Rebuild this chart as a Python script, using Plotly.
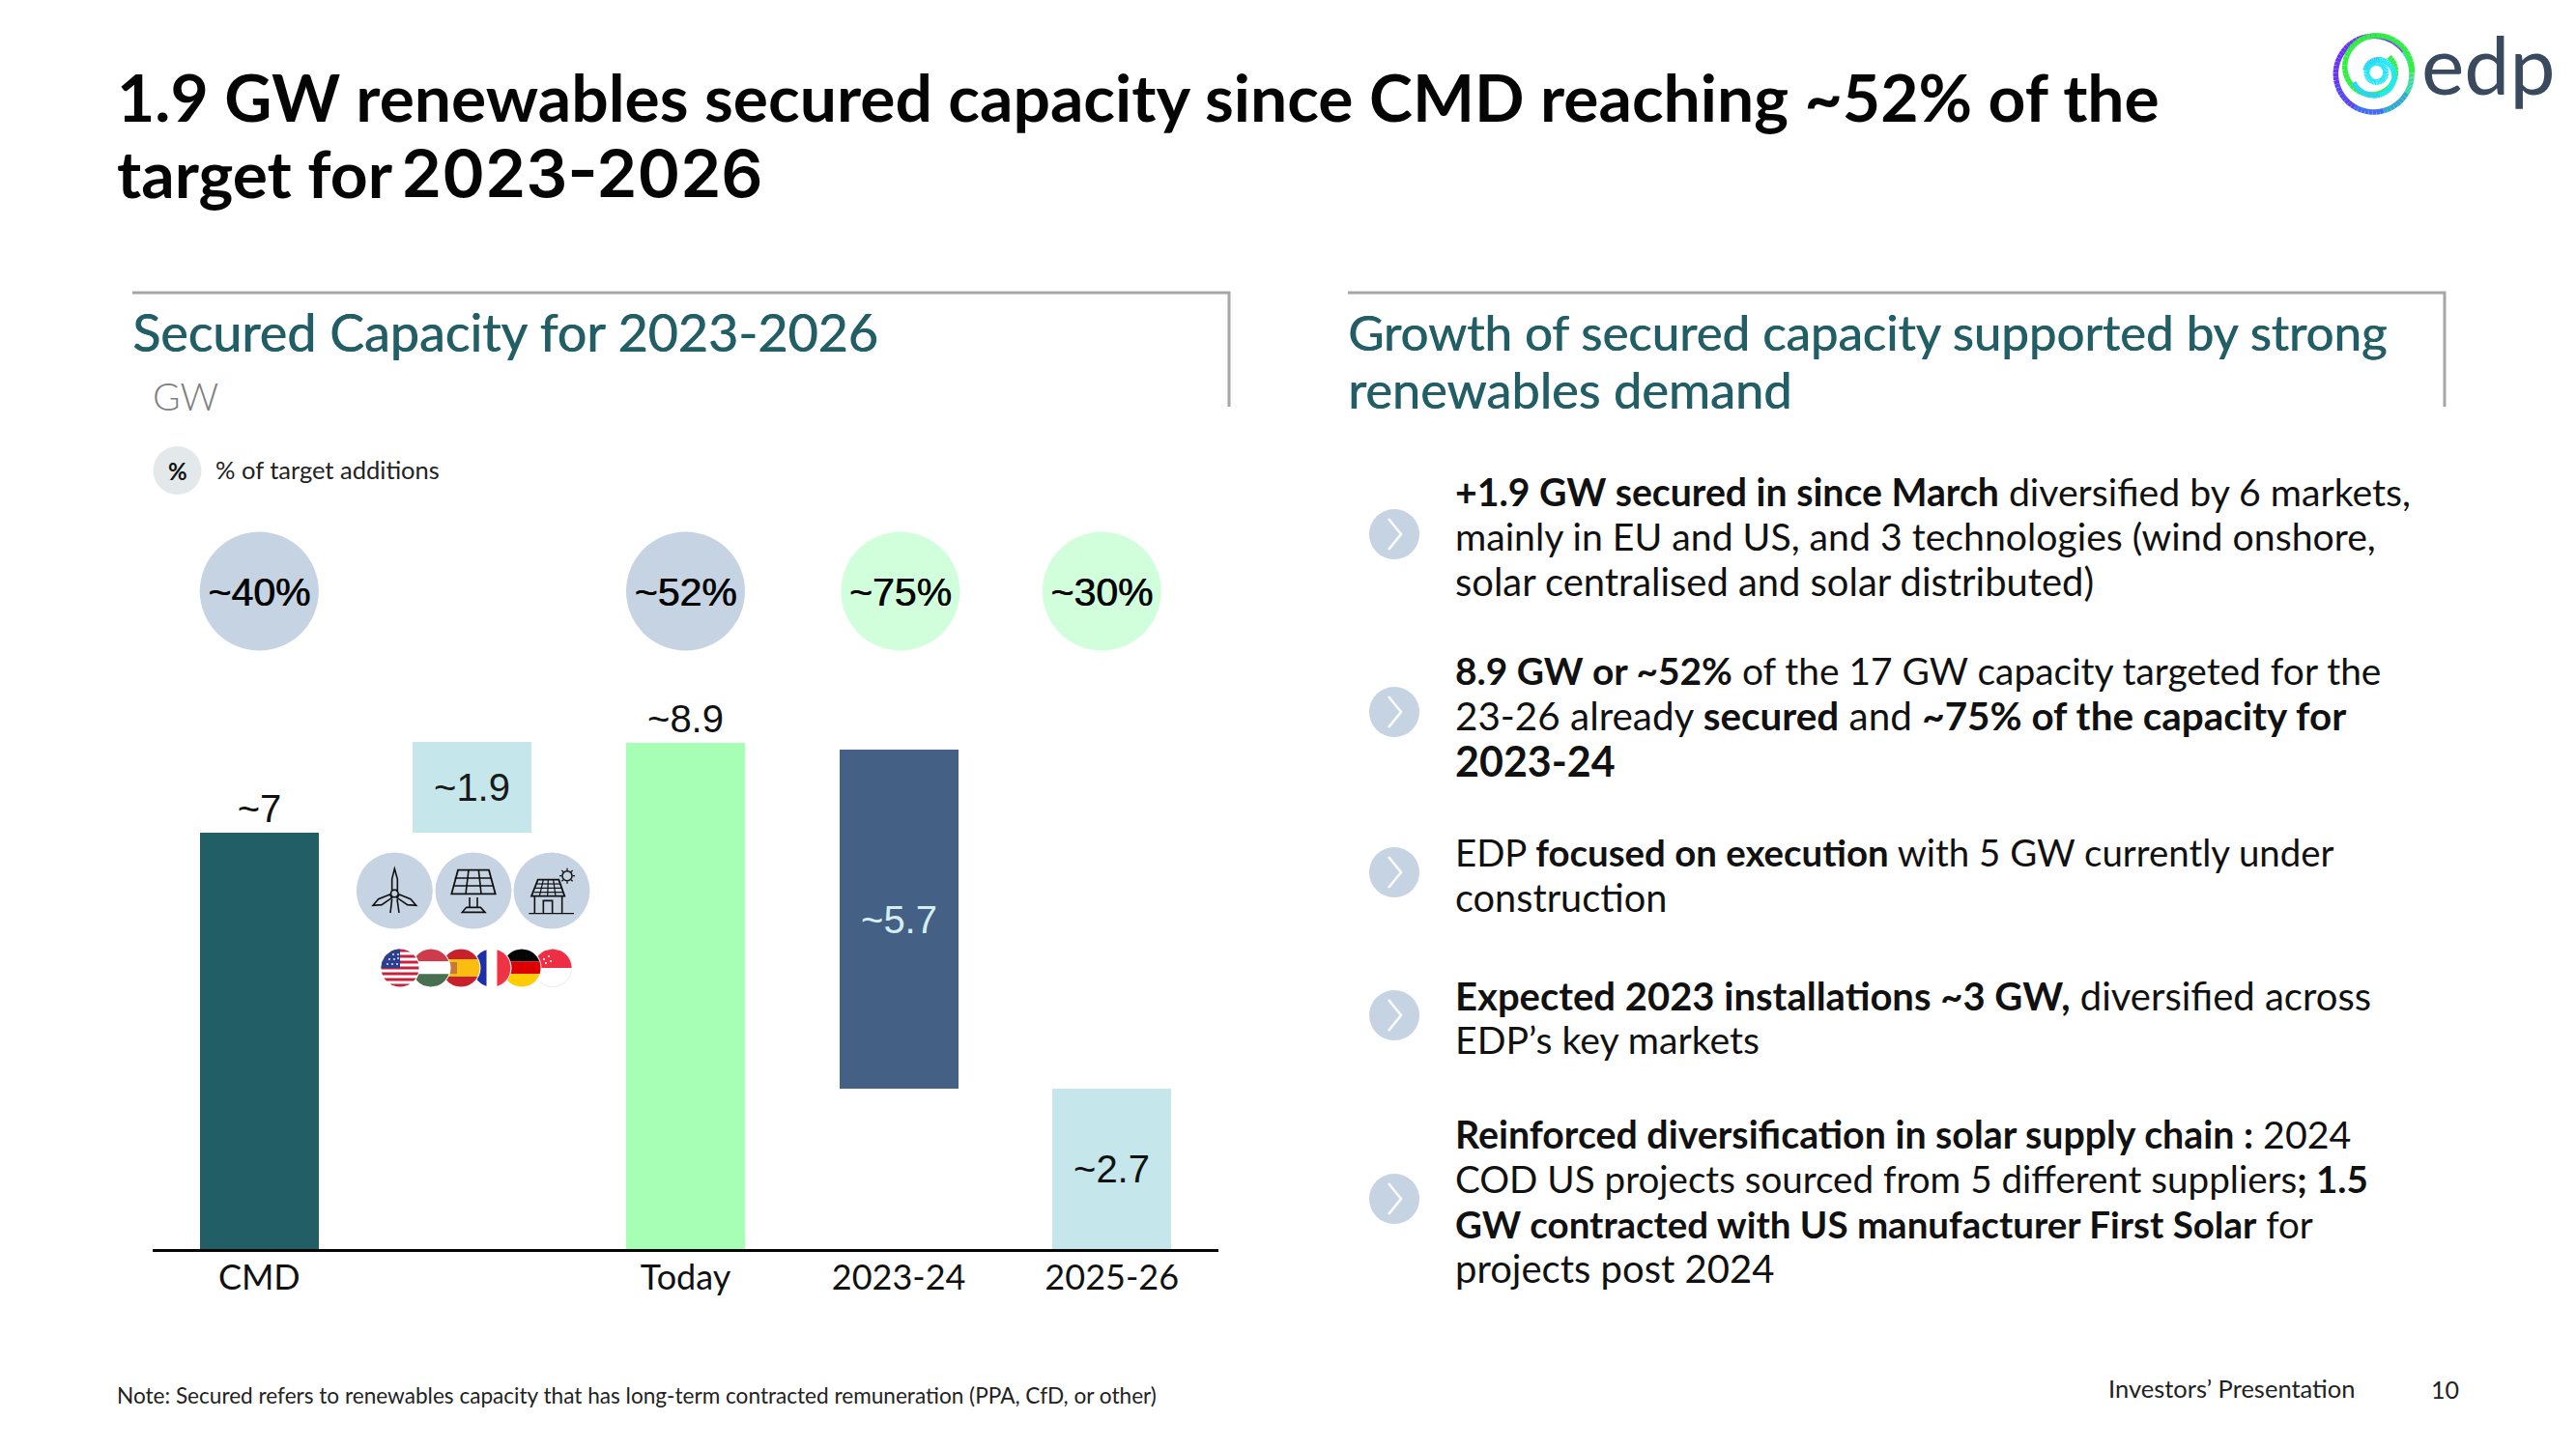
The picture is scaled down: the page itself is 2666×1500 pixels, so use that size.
import numpy as np
import plotly.graph_objects as go

W, H = 2666, 1500
CATEGORIES = ["CMD", "", "Today", "2023-24", "2025-26"]
BAR_BASE = [0, 7.0, 0, 2.7, 0]
BAR_HEIGHT = [7.0, 1.52, 8.5, 5.7, 2.7]
BAR_LABELS = ["~7", "~1.9", "~8.9", "~5.7", "~2.7"]
BAR_COLORS = ["#225E66", "#C5E7EC", "#A6FFB5", "#446084", "#C5E7EC"]
LABEL_COLORS = ["#111111", "#1a1a1a", "#111111", "#D5EEF2", "#111111"]
LABEL_POS = ["outside", "inside", "outside", "inside", "inside"]

PCT_X = [0, 2, 3.008, 3.953]
PCT_LABELS = ["~40%", "~52%", "~75%", "~30%"]
PCT_COLORS = ["#C6D3E2", "#C6D3E2", "#D2FFDB", "#D2FFDB"]

TITLE_LINE_1 = "1.9 GW renewables secured capacity since CMD reaching ~52% of the"
TITLE_LINE_2A = "target for"
TITLE_LINE_2B = "2023-2026"
BULLET_TEXT = [
    "<b>+1.9 GW secured in since March</b> diversified by 6 markets,",
    "mainly in EU and US, and 3 technologies (wind onshore,",
    "solar centralised and solar distributed)",
    "<b>8.9 GW or ~52%</b> of the 17 GW capacity targeted for the",
    "23-26 already <b>secured</b> and <b>~75% of the capacity for</b>",
    "<b>2023-24</b>",
    "EDP <b>focused on execution</b> with 5 GW currently under",
    "construction",
    "<b>Expected 2023 installations ~3 GW,</b> diversified across",
    "EDP’s key markets",
    "<b>Reinforced diversification in solar supply chain :</b> 2024",
    "COD US projects sourced from 5 different suppliers<b>; 1.5</b>",
    "<b>GW contracted with US manufacturer First Solar</b> for",
    "projects post 2024",
]

FONT = "Lato"
PX_PER_GW = 61.6
BASE_Y = 1293
AX_L, AX_R = 158, 1261
BULLET_LINE_Y = [508.5, 554.5, 601.5, 694, 740, 787.5, 881.5, 928.5, 1030.5, 1075.5, 1173.5, 1219.5, 1266.5, 1313]
BULLET_LINE_SIZE = [39.2, 39.2, 39.9, 38.9, 40.4, 43, 38.4, 39.7, 40, 39.2, 39.3, 38.6, 38.5, 40]
CHEVRON_Y = [553, 737, 903, 1051, 1241]


def px(x, y):
    return x / W, 1 - y / H


def path(pts, close=False):
    s = ""
    for i, (x, y) in enumerate(pts):
        a, b = px(x, y)
        s += ("M" if i == 0 else "L") + f"{a:.5f},{b:.5f} "
    return s + ("Z" if close else "")


shapes = []
annos = []


def poly(pts, fill=None, line=None, lw=0, close=True):
    d = dict(type="path", xref="paper", yref="paper", path=path(pts, close), layer="above",
             line=dict(color=line or "rgba(0,0,0,0)", width=lw))
    if fill:
        d["fillcolor"] = fill
    shapes.append(d)


def circ(cx, cy, r, fill=None, line=None, lw=0):
    x0, y1 = px(cx - r, cy - r)
    x1, y0 = px(cx + r, cy + r)
    d = dict(type="circle", xref="paper", yref="paper", x0=x0, x1=x1, y0=y0, y1=y1, layer="above",
             line=dict(color=line or "rgba(0,0,0,0)", width=lw))
    if fill:
        d["fillcolor"] = fill
    shapes.append(d)


def T(x, y, text, size, color="#111111", anchor="left", weight=400, family=FONT, shadow=None):
    a, b = px(x, y)
    font = dict(size=size, color=color, family=family, weight=weight)
    if shadow:
        font["shadow"] = shadow
    annos.append(dict(x=a, y=b, xref="paper", yref="paper", text=text, showarrow=False,
                      xanchor=anchor, yanchor="middle", font=font))


def hband(cx, cy, r, t0, t1, color):
    """horizontal band of a disc; t0/t1 are fractions of the diameter from the top"""
    ys = np.linspace(cy - r + 2 * r * t0, cy - r + 2 * r * t1, 14)
    w = np.sqrt(np.maximum(r * r - (ys - cy) ** 2, 0))
    pts = [(cx + a, y) for a, y in zip(w, ys)] + [(cx - a, y) for a, y in zip(w[::-1], ys[::-1])]
    poly(pts, fill=color)


def vband(cx, cy, r, t0, t1, color):
    xs = np.linspace(cx - r + 2 * r * t0, cx - r + 2 * r * t1, 14)
    h = np.sqrt(np.maximum(r * r - (xs - cx) ** 2, 0))
    pts = [(x, cy + a) for a, x in zip(h, xs)] + [(x, cy - a) for a, x in zip(h[::-1], xs[::-1])]
    poly(pts, fill=color)


# ---------- frames ----------
poly([(137, 303), (1272, 303), (1272, 421)], line="#A6A6A6", lw=3, close=False)
poly([(1395, 303), (2530, 303), (2530, 421)], line="#A6A6A6", lw=3, close=False)

# ---------- texts ----------
HEAD_SHADOW = "0.7px 0 0 #225E66"
T(119, 99, TITLE_LINE_1, 67.8, "#050505", weight=700)
T(119, 179, TITLE_LINE_2A, 67.8, "#050505", weight=700)
T(413, 179, TITLE_LINE_2B, 67.8, "#050505", weight=600, family="Inter")
T(135, 343, "Secured Capacity for 2023-2026", 53.8, "#225E66", shadow=HEAD_SHADOW)
T(1393, 343, "Growth of secured capacity supported by strong", 51, "#225E66", shadow=HEAD_SHADOW)
T(1393, 403, "renewables demand", 52.4, "#225E66", shadow=HEAD_SHADOW)
T(156, 410, "GW", 39, "#808080", weight=300)
circ(183.5, 487, 25, fill="#E3E9EA")
T(183.5, 487, "<b>%</b>", 24, "#111111", anchor="center")
T(221, 486, "% of target additions", 25.5, "#222222")
T(119, 1444, "Note: Secured refers to renewables capacity that has long-term contracted remuneration (PPA, CfD, or other)",
  22.6, "#222222")
T(2180, 1437, "Investors’ Presentation", 25.5, "#222222")
T(2547, 1438, "10", 25, "#222222", anchor="right")

# ---------- bullets ----------
for cy in CHEVRON_Y:
    circ(1443, cy, 26, fill="#C6D3E2")
    poly([(1437, cy - 16), (1450, cy), (1437, cy + 16)], line="#FFFFFF", lw=2.5, close=False)
for y, size, txt in zip(BULLET_LINE_Y, BULLET_LINE_SIZE, BULLET_TEXT):
    T(1504, y, txt, size, "#111111")


# ---------- technology icons (crop coordinates of the zoomed icons) ----------
def Z(x, y):
    return 340 + x / 3, 860 + y / 3


def zl(points, close=False, lw=1.6, color="#111111", fill=None):
    poly([Z(*p) for p in points], close=close, line=color, lw=lw, fill=fill)


for zx in (205, 450, 693):
    circ(*Z(zx, 186), 39.5, fill="#C6D3E2")

# wind turbine
zl([(205, 118), (214, 150), (214, 185), (197, 185), (197, 150)], close=True)
zl([(190, 198), (155, 212), (138, 232), (165, 230), (197, 208)], close=True)
zl([(220, 198), (255, 212), (272, 232), (245, 230), (213, 208)], close=True)
circ(*Z(205, 195), 3.8, fill="#C6D3E2", line="#111111", lw=1.6)
zl([(197, 212), (192, 255)])
zl([(213, 212), (219, 255)])

# solar panel
zl([(402, 122), (498, 122), (518, 196), (382, 196)], close=True, lw=1.8)
zl([(392, 147), (507, 147)])
zl([(387, 171), (512, 171)])
zl([(435, 122), (426, 196)])
zl([(466, 122), (474, 196)])
zl([(438, 207), (438, 240)])
zl([(462, 207), (462, 240)])
zl([(428, 238), (472, 238), (486, 253), (415, 253)], close=True)

# rooftop solar
zl([(650, 152), (715, 152), (733, 203), (630, 203)], close=True, lw=1.8)
zl([(647, 165), (720, 165)], lw=1.2)
zl([(642, 178), (724, 178)], lw=1.2)
zl([(638, 191), (728, 191)], lw=1.2)
for a, b in ((667, 655), (682, 680), (698, 705)):
    zl([(a, 152), (b, 203)], lw=1.2)
zl([(640, 203), (640, 256)])
zl([(725, 203), (725, 256)])
zl([(667, 256), (667, 217), (695, 217), (695, 256)])
zl([(622, 257), (762, 257)], lw=1.2)
circ(*Z(741, 140), 5, line="#111111", lw=1.5)
for ang in np.arange(0, 360, 45):
    c, s = np.cos(np.radians(ang)), np.sin(np.radians(ang))
    zl([(741 + 17 * c, 140 + 17 * s), (741 + 24 * c, 140 + 24 * s)], lw=1.3)

# ---------- flags, back to front ----------
FR = 19.5
FY = 1002
# Singapore
circ(572, FY, FR, fill="#FFFFFF", line="#ECECEC", lw=1)
hband(572, FY, FR, 0, 0.5, "#EE2E45")
for dx, dy in ((-9, -9), (-4, -12), (-2, -7), (-7, -5)):
    circ(572 + dx, FY + dy, 1.1, fill="#FFFFFF")
# Germany
circ(540, FY, FR + 1, fill="#FFFFFF")
hband(540, FY, FR, 0, 0.33, "#050505")
hband(540, FY, FR, 0.33, 0.66, "#DD0000")
hband(540, FY, FR, 0.66, 1, "#FFCC00")
# France
circ(509, FY, FR + 1, fill="#FFFFFF")
vband(509, FY, FR, 0, 0.36, "#1D2FA8")
vband(509, FY, FR, 0.64, 1, "#EF3347")
# Spain
circ(477, FY, FR + 1, fill="#FFFFFF")
hband(477, FY, FR, 0, 0.27, "#C8202C")
hband(477, FY, FR, 0.27, 0.73, "#F9BE10")
hband(477, FY, FR, 0.73, 1, "#C8202C")
poly([(464, 996), (473, 996), (473, 1008), (464, 1008)], fill="#C8793A")
# Hungary
circ(446, FY, FR + 1, fill="#FFFFFF")
hband(446, FY, FR, 0, 0.33, "#CE3B4A")
hband(446, FY, FR, 0.33, 0.66, "#FFFFFF")
hband(446, FY, FR, 0.66, 1, "#477050")
# USA
circ(414, FY, FR + 1, fill="#FFFFFF")
for i in range(0, 13, 2):
    hband(414, FY, FR, i / 13, (i + 1) / 13, "#C8203F")
ang = np.radians(np.linspace(180, 270, 14))
poly([(414, FY)] + [(414 + FR * np.cos(a), FY + FR * np.sin(a)) for a in ang], fill="#2A3F8F")
for dx, dy in ((-13, -4), (-8, -4), (-3, -4), (-11, -9), (-6, -9), (-7, -14), (-2, -10), (-2, -14)):
    circ(414 + dx, FY + dy, 0.9, fill="#FFFFFF")


# ---------- logo (crop coordinates of the zoomed logo) ----------
def L(x, y):
    return 2380 + x / 3, 10 + y / 3


def ring(cx, cy, r_from, r_to, a_from, a_to, colors, lw, n=48):
    th = np.linspace(a_from, a_to, n + 1)
    rr = np.linspace(r_from, r_to, n + 1)
    for i in range(n):
        col = colors[int(i / n * len(colors))]
        p0 = (cx + rr[i] * np.cos(np.radians(th[i])), cy - rr[i] * np.sin(np.radians(th[i])))
        p1 = (cx + rr[i + 1] * np.cos(np.radians(th[i + 1])), cy - rr[i + 1] * np.sin(np.radians(th[i + 1])))
        poly([L(*p0), L(*p1)], line=col, lw=lw, close=False)


ring(230, 200, 118, 118, 60, 330,
     ["#6C33F2", "#6C33F2", "#6C33F2", "#5A45F2", "#3F6CF0", "#2FA9D0"], 5.5)
ring(230, 200, 118, 118, -30, 60, ["#2FD6A0", "#33E070", "#3FD0D0", "#6C33F2"], 5.5)
ring(232, 185, 118, 60, -5, 400, ["#33EE44"], 5.5)
ring(238, 200, 75, 36, 200, 520, ["#2BD4F5", "#22E8F5", "#22E8F5", "#30C8F0"], 5.5)
ring(238, 195, 30, 30, 0, 360, ["#22E4F5"], 6)
a, b = px(*L(372, 261))
annos.append(dict(x=a, y=b, xref="paper", yref="paper", text="edp", showarrow=False,
                  xanchor="left", yanchor="bottom", yshift=-21,
                  font=dict(size=84, color="#3A4A5E", family=FONT, weight=400)))

# ---------- chart ----------
fig = go.Figure()
fig.add_trace(go.Bar(
    x=list(range(len(CATEGORIES))), y=BAR_HEIGHT, base=BAR_BASE, width=0.558,
    marker=dict(color=BAR_COLORS, line=dict(width=0)),
    text=BAR_LABELS, textposition=LABEL_POS, insidetextanchor="middle", textangle=0,
    constraintext="none", cliponaxis=False,
    textfont=dict(size=40, color=LABEL_COLORS, family="Liberation Sans"),
    hoverinfo="skip", showlegend=False))
PCT_ROW = (BASE_Y - 612) / PX_PER_GW
fig.add_trace(go.Scatter(
    x=PCT_X, y=[PCT_ROW] * len(PCT_X), mode="markers",
    marker=dict(size=123, color=PCT_COLORS, line=dict(width=0)),
    hoverinfo="skip", showlegend=False))
fig.add_trace(go.Scatter(
    x=PCT_X, y=[PCT_ROW - 5 / PX_PER_GW] * len(PCT_X), mode="text",
    text=PCT_LABELS, textposition="middle center",
    textfont=dict(size=41, color="#050505", family="Liberation Sans", shadow="0.7px 0 0 #050505"),
    hoverinfo="skip", showlegend=False))

fig.update_layout(
    width=W, height=H, margin=dict(l=0, r=0, t=0, b=0), autosize=False,
    paper_bgcolor="#FFFFFF", plot_bgcolor="rgba(0,0,0,0)", bargap=0,
    shapes=shapes, annotations=annos, showlegend=False,
    font=dict(family=FONT),
    xaxis=dict(domain=[AX_L / W, AX_R / W], range=[-0.5, 4.5], tickmode="array",
               tickvals=list(range(len(CATEGORIES))), ticktext=CATEGORIES,
               tickfont=dict(size=36, color="#111111", family=FONT),
               ticks="", showgrid=False, zeroline=False, showline=True,
               linecolor="#050505", linewidth=3, anchor="y", ticklabelstandoff=-4),
    yaxis=dict(domain=[1 - BASE_Y / H, 1], range=[0, BASE_Y / PX_PER_GW], visible=False,
               showgrid=False, zeroline=False),
)

fig.write_html("out.html", config=dict(displayModeBar=False),
               post_script="document.body.style.margin='0';document.documentElement.style.overflow='hidden';")
